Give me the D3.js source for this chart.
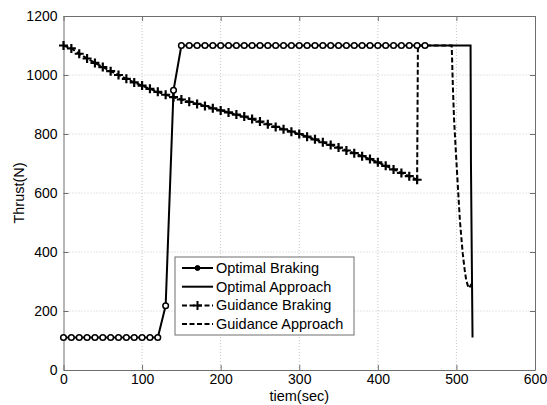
<!DOCTYPE html>
<html>
<head>
    <meta charset="utf-8">
    <title>Thrust</title>
    <style>
        body { margin: 0; background: #fff; }
        svg { font-family: 'Liberation Sans', Arial, sans-serif; }
        .grid line { stroke: #c8c8c8; stroke-dasharray: 1, 2; }
        .tick text { font-size: 14px; fill: #000; }
    </style>
</head>
<body>
    <figure style="margin:0"></figure>
    <script src="https://d3js.org/d3.v7.min.js"></script>
    <script>
        ////////////////////////////////////
        ///////////// Data /////////////////
        ////////////////////////////////////

        // Optimal braking: sampled every 10 s from 0 to 460
        const braking_t = d3.range(0, 461, 10)
        const optimalBraking = [110, 110, 110, 110, 110, 110, 110, 110, 110, 110, 110, 110, 110,
            218, 948,
            1100, 1100, 1100, 1100, 1100, 1100, 1100, 1100, 1100, 1100, 1100, 1100, 1100, 1100, 1100, 1100,
            1100, 1100, 1100, 1100, 1100, 1100, 1100, 1100, 1100, 1100, 1100, 1100, 1100, 1100, 1100, 1100]

        // Guidance braking: every 10 s from 0 to 450
        const guidance_t = d3.range(0, 451, 10)
        const guidanceBraking = [1100, 1090, 1072, 1056, 1041, 1027, 1013, 1000, 987, 975,
            964, 953, 943, 933, 925, 917, 909, 902, 895, 887,
            880, 873, 866, 859, 851, 842, 833, 824, 816, 808,
            800, 791, 782, 772, 763, 754, 744, 735, 725, 715,
            704, 692, 680, 668, 657, 645]

        // Optimal approach
        const approach_t = [460, 518, 518.5, 519.5, 520.5]
        const optimalApproach = [1100, 1100, 700, 400, 110]

        // Guidance approach
        const gApproach_t = [450, 451, 494, 495.5, 497, 499.4, 502, 504.4, 508, 510.5, 512.5, 515.5, 517, 519.5]
        const guidanceApproach = [645, 1100, 1100, 960, 850, 735, 615, 508, 396, 340, 304, 278, 282, 292]

        const xTicks = [0, 100, 200, 300, 400, 500, 600]
        const yTicks = [0, 200, 400, 600, 800, 1000, 1200]

        const legendLabels = ['Optimal Braking', 'Optimal Approach', 'Guidance Braking', 'Guidance Approach']

        ////////////////////////////////////
        ///////////// SVG Setup ////////////
        ////////////////////////////////////

        const W = 547, H = 405
        const margin = { left: 63.5, right: 12, top: 16, bottom: 35 }
        const width = W - margin.left - margin.right
        const height = H - margin.top - margin.bottom

        const svg = d3.select('figure').append('svg')
            .attr('width', W).attr('height', H)

        const g = svg.append('g')
            .attr('transform', `translate(${margin.left},${margin.top})`)

        const x = d3.scaleLinear().domain([0, 600]).range([0, width])
        const y = d3.scaleLinear().domain([0, 1200]).range([height, 0])

        // grid
        g.append('g').attr('class', 'grid')
            .selectAll('line').data(xTicks.slice(1, -1)).join('line')
            .attr('x1', d => x(d)).attr('x2', d => x(d))
            .attr('y1', 0).attr('y2', height)
        g.append('g').attr('class', 'grid')
            .selectAll('line').data(yTicks.slice(1, -1)).join('line')
            .attr('y1', d => y(d)).attr('y2', d => y(d))
            .attr('x1', 0).attr('x2', width)

        // axes (ticks inward, MATLAB style)
        const axisColor = '#6e6e6e'
        const fmt = d3.format('d')
        g.append('g').attr('transform', `translate(0,${height})`)
            .call(d3.axisBottom(x).tickValues(xTicks).tickFormat(fmt).tickSizeInner(-5).tickSizeOuter(0).tickPadding(4.5))
        g.append('g')
            .call(d3.axisLeft(y).tickValues(yTicks).tickFormat(fmt).tickSizeInner(-5).tickSizeOuter(0).tickPadding(6))
        g.append('g').call(d3.axisTop(x).tickValues(xTicks).tickSizeInner(-5).tickSizeOuter(0).tickFormat(''))
        g.append('g').attr('transform', `translate(${width},0)`)
            .call(d3.axisRight(y).tickValues(yTicks).tickSizeInner(-5).tickSizeOuter(0).tickFormat(''))
        g.selectAll('.domain, .tick line').attr('stroke', axisColor)

        // labels
        svg.append('text')
            .attr('x', margin.left + width / 2).attr('y', 401)
            .attr('text-anchor', 'middle').attr('font-size', 14.5)
            .text('tiem(sec)')
        svg.append('text')
            .attr('transform', `translate(24,${margin.top + height / 2}) rotate(-90)`)
            .attr('text-anchor', 'middle').attr('font-size', 14.5)
            .text('Thrust(N)')

        ////////////////////////////////////
        /////////////// Draw lines /////////
        ////////////////////////////////////

        const line = d3.line().x(d => x(d[0])).y(d => y(d[1]))
        const zip = (a, b) => a.map((v, i) => [v, b[i]])

        const gaData = zip(gApproach_t, guidanceApproach)
        const gbData = zip(guidance_t, guidanceBraking)
        const oaData = zip(approach_t, optimalApproach)
        const obData = zip(braking_t, optimalBraking)

        g.append('path').datum(gaData).attr('d', line)
            .attr('fill', 'none').attr('stroke', '#000').attr('stroke-width', 2)
            .attr('stroke-dasharray', '5,2.5')

        g.append('path').datum(oaData).attr('d', line)
            .attr('fill', 'none').attr('stroke', '#000').attr('stroke-width', 2)

        g.append('path').datum(gbData).attr('d', line)
            .attr('fill', 'none').attr('stroke', '#000').attr('stroke-width', 2)
            .attr('stroke-dasharray', '5,2.5')

        g.append('path').datum(obData).attr('d', line)
            .attr('fill', 'none').attr('stroke', '#000').attr('stroke-width', 2)

        // plus markers
        const plus = 'M-4.5,0H4.5M0,-4.5V4.5'
        g.selectAll('.plus').data(gbData).join('path')
            .attr('class', 'plus')
            .attr('transform', d => `translate(${x(d[0])},${y(d[1])})`)
            .attr('d', plus).attr('stroke', '#000').attr('stroke-width', 2.2)

        // circle markers
        g.selectAll('.circ').data(obData).join('circle')
            .attr('class', 'circ')
            .attr('cx', d => x(d[0])).attr('cy', d => y(d[1]))
            .attr('r', 2.8).attr('fill', '#fff').attr('stroke', '#000').attr('stroke-width', 1.5)

        ////////////////////////////////////
        /////////////// Legend /////////////
        ////////////////////////////////////

        const lg = svg.append('g').attr('transform', 'translate(175,257)')
        lg.append('rect').attr('width', 179).attr('height', 78)
            .attr('fill', '#fff').attr('stroke', axisColor).attr('stroke-width', 1)

        const styles = [
            { dash: null, marker: 'circle' },
            { dash: null, marker: null },
            { dash: '5,2.5', marker: 'plus' },
            { dash: '5,2.5', marker: null }
        ]
        legendLabels.forEach((lab, i) => {
            const yy = 11 + i * 18.7
            const row = lg.append('g').attr('transform', `translate(0,${yy})`)
            row.append('line').attr('x1', 7).attr('x2', 38).attr('y1', 0).attr('y2', 0)
                .attr('stroke', '#000').attr('stroke-width', 2)
                .attr('stroke-dasharray', styles[i].dash)
            if (styles[i].marker === 'circle') {
                row.append('circle').attr('cx', 22.5).attr('cy', 0).attr('r', 2.5)
                    .attr('fill', '#000').attr('stroke', '#000')
            } else if (styles[i].marker === 'plus') {
                row.append('path').attr('d', plus).attr('transform', 'translate(22.5,0)')
                    .attr('stroke', '#000').attr('stroke-width', 2)
            }
            row.append('text').attr('x', 41).attr('y', 5)
                .attr('font-size', 14.5).text(lab)
        })
    </script>
</body>
</html>
